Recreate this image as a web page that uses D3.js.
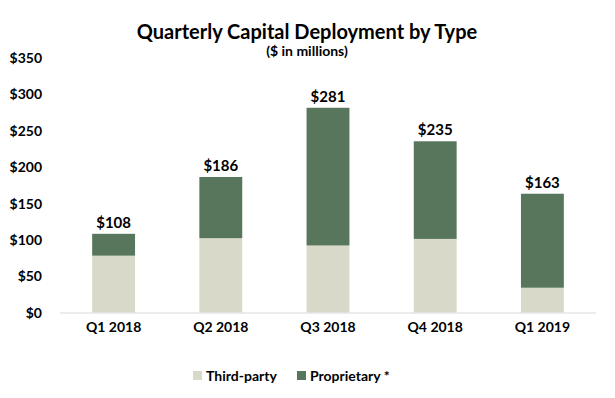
<!DOCTYPE html>
<html>
<head>
<meta charset="utf-8">
<script src="https://cdn.jsdelivr.net/npm/d3@7"></script>
<style>
  body { margin: 0; background: #fff; }
  text { font-family: Lato, "Open Sans", sans-serif; font-weight: bold; fill: #000; }
</style>
</head>
<body>
<div id="chart"></div>
<script>
var quarters = ["Q1 2018", "Q2 2018", "Q3 2018", "Q4 2018", "Q1 2019"];
var thirdParty = [78, 102, 92, 101, 34];
var proprietary = [30, 84, 189, 134, 129];
var totals = [108, 186, 281, 235, 163];
var yTicks = [0, 50, 100, 150, 200, 250, 300, 350];
var seriesNames = ["Third-party", "Proprietary *"];
var seriesColors = ["#d8d9c9", "#57765c"];

var width = 615, height = 398;
var margin = {top: 57.5, right: 19, bottom: 85.5, left: 60};

var svg = d3.select("#chart").append("svg")
    .attr("width", width)
    .attr("height", height);

var x = d3.scaleBand()
    .domain(quarters)
    .range([margin.left, width - margin.right])
    .paddingInner(0.6)
    .paddingOuter(0.3);

var y = d3.scaleLinear()
    .domain([0, 350])
    .range([height - margin.bottom, margin.top]);

var rows = quarters.map(function (q, i) {
    return {quarter: q, "Third-party": thirdParty[i], "Proprietary *": proprietary[i], total: totals[i]};
});
var stack = d3.stack().keys(seriesNames)(rows);

// y axis labels
var yAxis = d3.axisLeft(y).tickValues(yTicks).tickSize(0).tickPadding(18)
    .tickFormat(function (d) { return "$" + d; });
svg.append("g")
    .attr("transform", "translate(" + margin.left + ",0)")
    .call(yAxis)
    .call(function (g) { g.select(".domain").remove(); })
    .selectAll("text")
    .style("font-size", "14px")
    .attr("dy", "0.35em");

// bars
svg.selectAll("g.series")
    .data(stack)
    .enter().append("g")
    .attr("class", "series")
    .attr("fill", function (d, i) { return seriesColors[i]; })
    .selectAll("rect")
    .data(function (d) { return d; })
    .enter().append("rect")
    .attr("x", function (d) { return x(d.data.quarter); })
    .attr("width", x.bandwidth())
    .attr("y", function (d) { return y(d[1]); })
    .attr("height", function (d) { return y(d[0]) - y(d[1]); });

// baseline + category labels
var xAxis = d3.axisBottom(x).tickSize(0).tickPadding(10);
svg.append("g")
    .attr("transform", "translate(0," + y(0) + ")")
    .call(xAxis)
    .call(function (g) {
        g.select(".domain").attr("stroke", "#d9d9d9").attr("d", "M" + margin.left + ",0.5H" + (width - margin.right));
    })
    .selectAll("text")
    .style("font-size", "14px");

// total labels
svg.selectAll("text.total")
    .data(rows)
    .enter().append("text")
    .attr("class", "total")
    .attr("text-anchor", "middle")
    .attr("x", function (d) { return x(d.quarter) + x.bandwidth() / 2; })
    .attr("y", function (d) { return y(d.total) - 6; })
    .style("font-size", "15px")
    .text(function (d) { return "$" + d.total; });

// title
svg.append("text")
    .attr("x", 307)
    .attr("y", 39)
    .attr("text-anchor", "middle")
    .style("font-size", "20px")
    .text("Quarterly Capital  Deployment by Type");
svg.append("text")
    .attr("x", 307)
    .attr("y", 56)
    .attr("text-anchor", "middle")
    .style("font-size", "14px")
    .text("($ in millions)");

// legend
var legendX = [193, 297];
var legend = svg.selectAll("g.legend")
    .data(seriesNames)
    .enter().append("g")
    .attr("class", "legend")
    .attr("transform", function (d, i) { return "translate(" + legendX[i] + ",376)"; });
legend.append("rect")
    .attr("x", 0).attr("y", -5)
    .attr("width", 9).attr("height", 9)
    .attr("fill", function (d, i) { return seriesColors[i]; });
legend.append("text")
    .attr("x", 13)
    .attr("dy", "0.35em")
    .style("font-size", "14px")
    .text(function (d) { return d; });
</script>
</body>
</html>
